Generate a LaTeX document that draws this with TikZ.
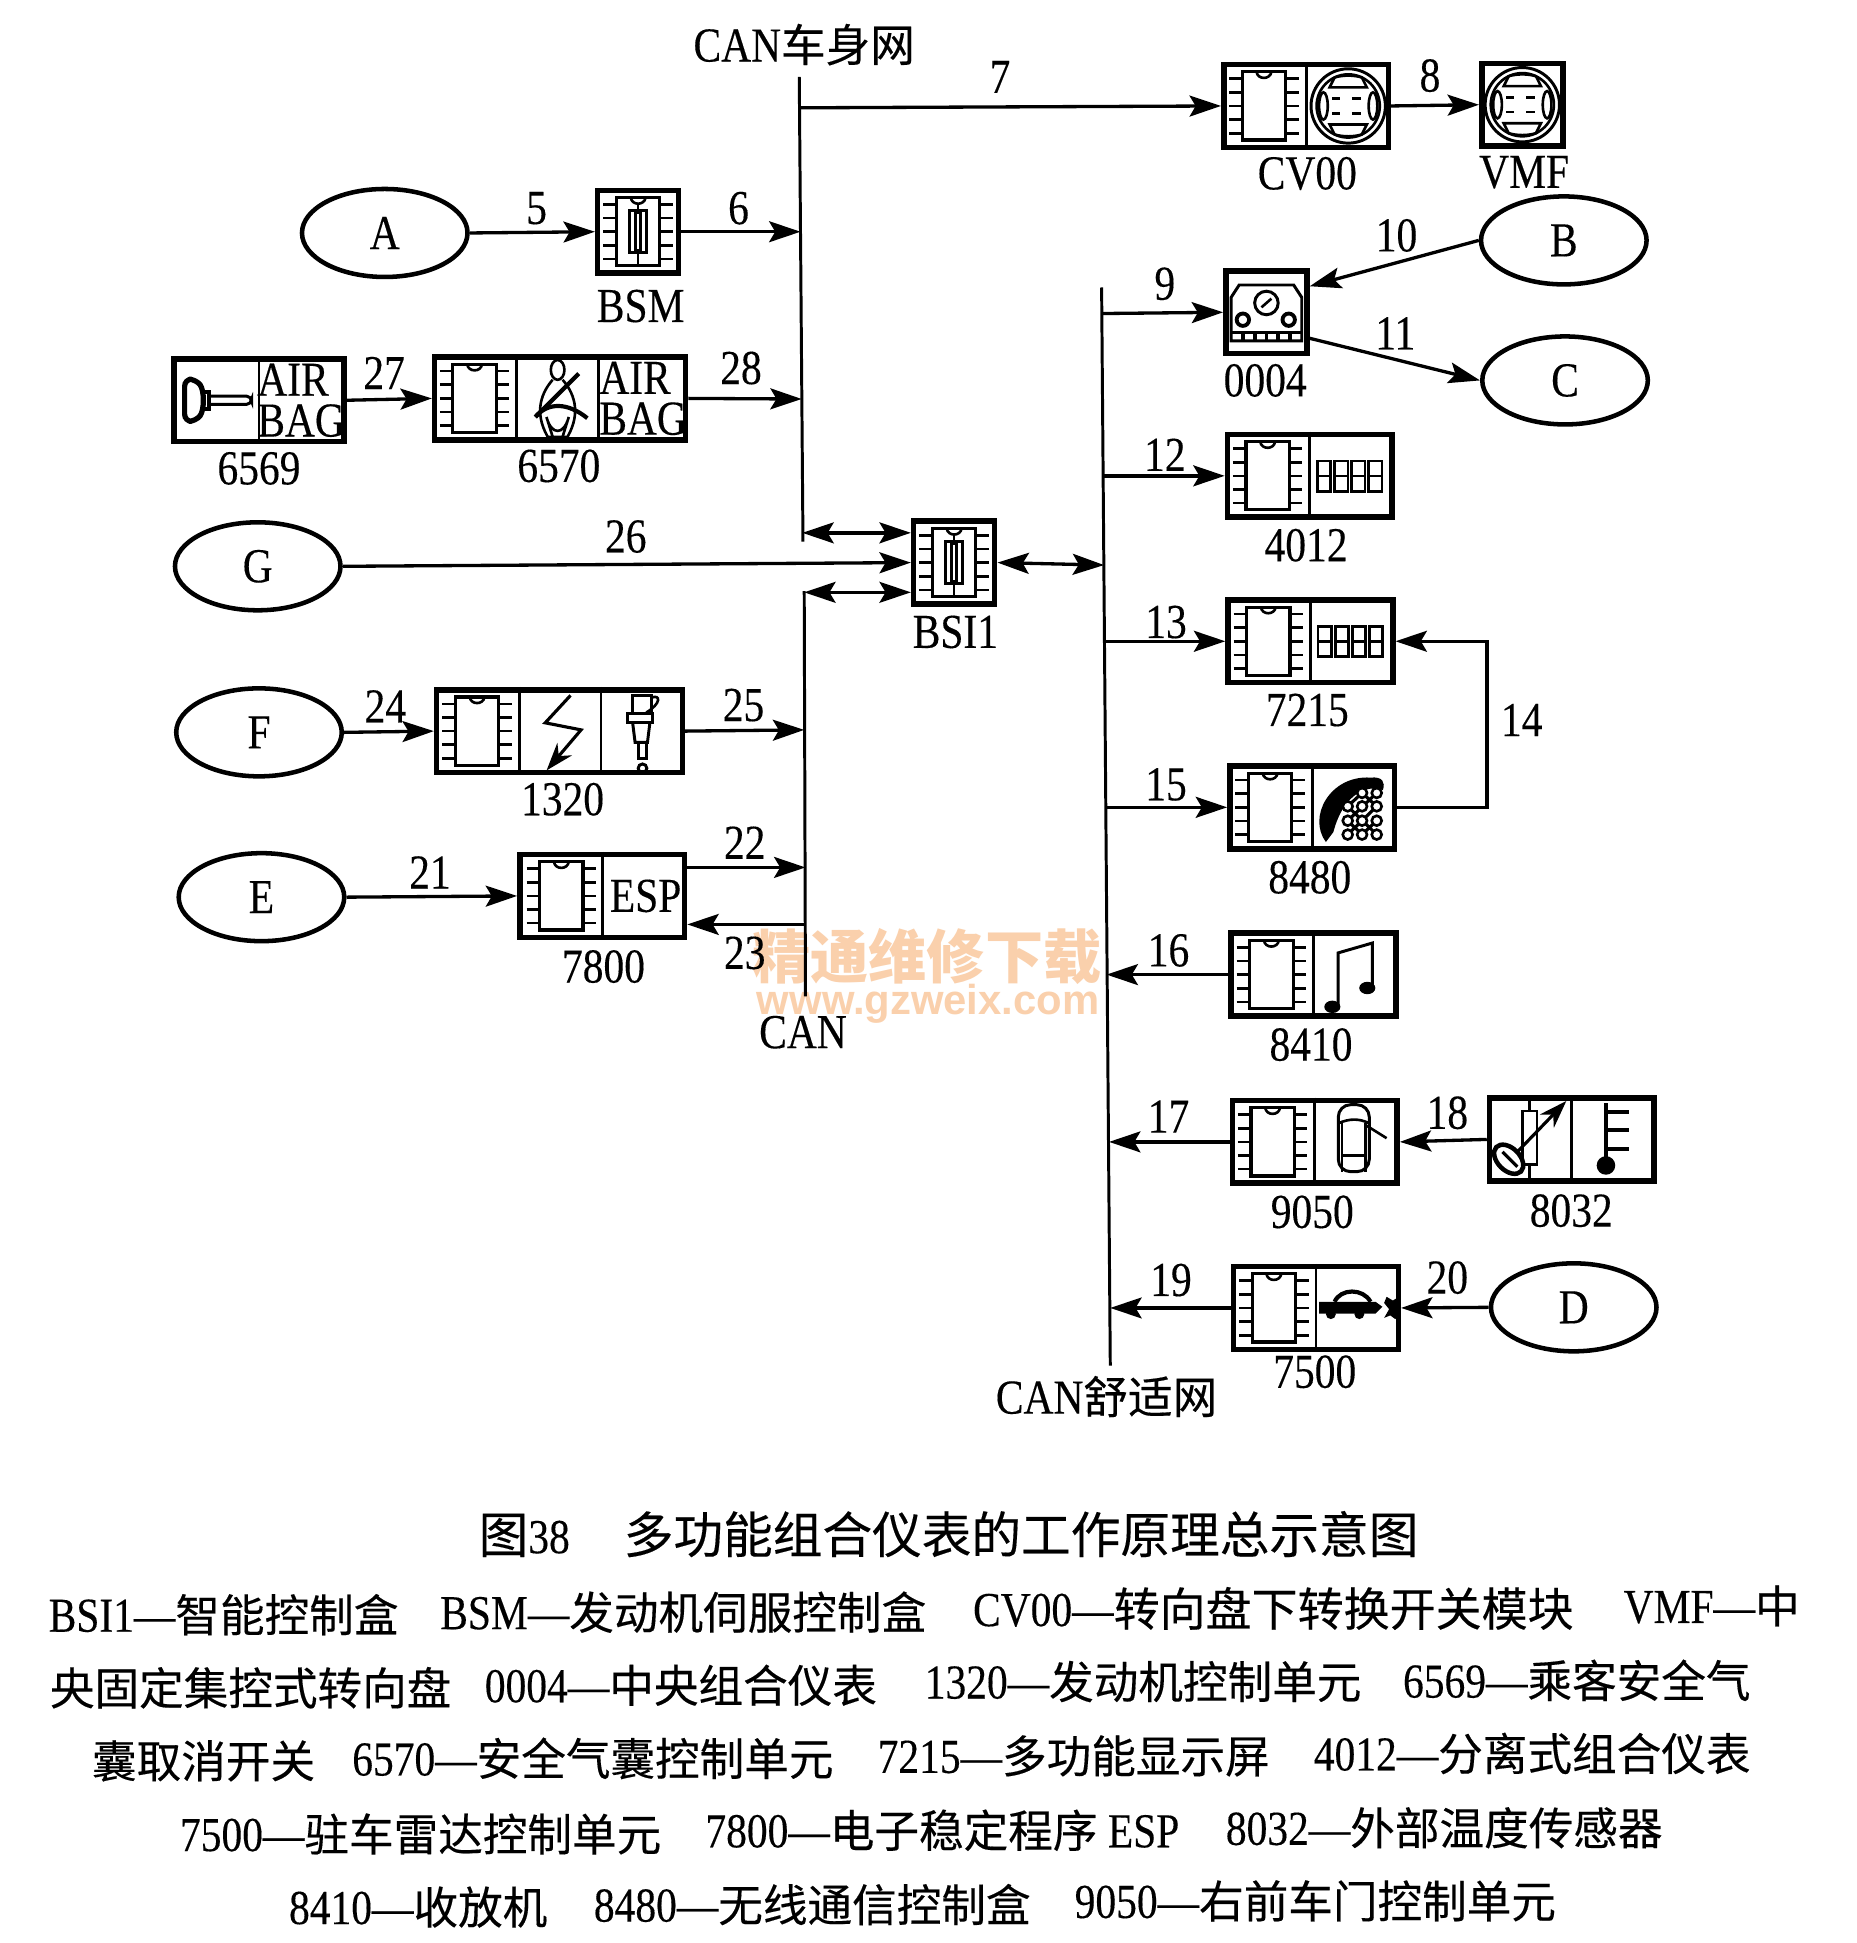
\documentclass[tikz,border=0pt]{standalone}
\usepackage{fontspec}
\setmainfont[FakeStretch=0.85,FakeBold=0.25]{Liberation Serif}
\newfontfamily\cjk[FakeBold=0.3]{Noto Sans CJK SC}
\newfontfamily\wmarkzh{Noto Sans CJK SC}
\newfontfamily\wmark{Liberation Sans}
\usetikzlibrary{shapes,positioning,calc,arrows.meta}
\definecolor{wmarkc}{RGB}{250,208,172}
\newcommand{\zh}[1]{{\cjk\fontsize{25.6}{28}\selectfont #1}}
\newcommand{\zhwide}[1]{{\cjk\fontsize{26.4}{28}\selectfont #1}}
\newcommand{\zhbig}[1]{{\cjk\fontsize{28.5}{30}\selectfont #1}}
\tikzset{
    fine/.style={line width=1.5pt},
    chip/.pic={
        \draw[fine] (-6,-27.5) .. controls (-5,-21) and (5,-21) .. (6,-27.5);
        \draw[line width=1.8pt] (-17.5,-27.5) rectangle (17.5,27.5);
        \foreach \p in {-22,-11,0,11,22} {
            \draw[fine] (-28,\p) -- (-17.5,\p);
            \draw[fine] (17.5,\p) -- (28,\p);
        }
    },
    fusechip/.pic={
        \pic {chip};
        \draw[fine] (0,-22) -- (0,27.5);
        \draw[line width=1.7pt, fill=white] (-7,-17) rectangle (7,17);
        \draw[fine] (-2,-15) rectangle (2,15);
    },
    wheel/.pic={
        \draw[line width=1.7pt] (0,0) circle [radius=30];
        \draw[fine] (0,0) circle [radius=25.5];
        \draw[fine] (-11,-23) .. controls (-4,-25) and (4,-25) .. (11,-23) -- (15,-15) -- (-15,-15) -- cycle;
        \draw[fine] (-11,23) .. controls (-4,25) and (4,25) .. (11,23) -- (15,15) -- (-15,15) -- cycle;
        \draw[fine] (-20,0) ellipse [x radius=3.5, y radius=11];
        \draw[fine] (20,0) ellipse [x radius=3.5, y radius=11];
        \foreach \r in {-6,6} {
            \draw[fine] (-13,\r) -- (-7,\r);
            \draw[fine] (3,\r) -- (10,\r);
        }
    },
    gauge/.pic={
        \draw[line width=1.7pt] (-28.5,23) -- (-28.5,-12) -- (-22,-22) -- (22,-22) -- (28.5,-12) -- (28.5,23) -- cycle;
        \draw[line width=1.7pt] (0,-7.5) circle [radius=9.5];
        \draw[fine] (-4,-4) -- (4,-11);
        \draw[line width=2.2pt] (-19,6) circle [radius=5];
        \draw[line width=2.2pt] (18,6) circle [radius=5];
        \draw[line width=1.7pt] (-28.5,16) -- (28.5,16);
        \foreach \t in {-19,-9.5,0,9.5,19} \draw[line width=2.2pt] (\t,16) -- (\t,23);
    },
    digits/.pic={
        \foreach \k in {0,1,2,3} {
            \draw[fine] (-27.8+\k*13.8,-12) rectangle (-17.1+\k*13.8,12.5);
            \draw[fine] (-27.8+\k*13.8,0) -- (-17.1+\k*13.8,0);
        }
    },
    phone/.pic={
        \fill (-23,28) .. controls (-38,8) and (-20,-26) .. (13,-24) .. controls (23,-25) and (25,-20) .. (23,-14)
            .. controls (13,-18) and (-8,-14) .. (-17,20) -- cycle;
        \draw[line width=1.8pt] (-5.4,-.8) -- (6.2,-11.6) (-5.4,10.8) -- (18,-11.6) (-5.4,22) -- (18,-.8) (6.2,22) -- (18,10.8)
            (6.2,-11.6) -- (18,-.8) (-5.4,-.8) -- (18,22) (-5.4,10.8) -- (6.2,22);
        \foreach \x/\y in {6.2/-11.6,18/-11.6,-5.4/-.8,6.2/-.8,18/-.8,-5.4/10.8,6.2/10.8,18/10.8,-5.4/22,6.2/22,18/22}
            \draw[fine, fill=white] (\x,\y) circle [radius=4];
    },
    music/.pic={
        \draw[line width=1.7pt] (-14.2,24) -- (-14.2,-17.5) -- (13.5,-25.5) -- (13.5,10.8);
        \fill (-18.8,26) ellipse [x radius=6.5, y radius=5];
        \fill (9.4,10.8) ellipse [x radius=6.5, y radius=5];
    },
    belted/.pic={
        \draw[fine] (0,-23) ellipse [x radius=5.5, y radius=8];
        \draw[fine] (-4,-15) .. controls (-12,-6) and (-20,10) .. (-8,31) -- (8,31) .. controls (20,10) and (12,-6) .. (4,-15);
        \draw[fine] (-9,15) -- (-4,31) (9,15) -- (4,31) (-9,15) .. controls (-5,30) and (5,30) .. (9,15);
        \draw[line width=2.4pt] (17,-20) -- (-18,15);
        \draw[line width=2.4pt] (-18,15) .. controls (-8,3) and (8,3) .. (24,16);
    },
    pullkey/.pic={
        \draw[line width=3pt, rounded corners=4pt] (-24,-17) -- (-15,-17) .. controls (-8,-8) and (-8,8) .. (-15,17) -- (-24,17) -- cycle;
        \draw[line width=2.2pt] (-8.4,-7) -- (-4.5,-7) -- (-4.5,7) -- (-8.4,7);
        \draw[line width=1.7pt, rounded corners=3pt] (-4.5,-3.4) -- (30,-3.4) -- (30,3.4) -- (-4.5,3.4);
    },
    bolt/.pic={
        \draw[line width=1.8pt, -{Stealth[length=16pt,width=11pt]}] (8.9,-28.8) -- (-11.5,-6.7) -- (17.4,-1) -- (-10.4,31.7);
    },
    plug/.pic={
        \draw[line width=1.7pt] (-8,-14) -- (-8,-29) -- (7,-29) -- (7,-14);
        \draw[fine] (7,-27) .. controls (15,-30) and (15,-22) .. (3,-15);
        \draw[line width=1.7pt] (-12,-14) rectangle (8,-7);
        \draw[line width=1.7pt] (-8,-7) -- (-6,9) -- (4,9) -- (6,-7);
        \draw[line width=1.7pt] (-3.3,9) rectangle (3,22);
        \draw[line width=1.7pt] (0,30) circle [radius=3.5];
    },
    cabin/.pic={
        \draw[line width=1.7pt, rounded corners=7pt] (-15,-30) rectangle (10,24);
        \draw[fine] (-15,-15) .. controls (-6,-19) and (2,-19) .. (10,-15);
        \draw[fine] (-12,-15) -- (-12,24) (7,-15) -- (7,24) (-11,11) -- (6,11);
        \draw[fine] (8,-13) -- (24,-3);
    },
    thermal/.pic={
        \draw[line width=1.8pt] (0,-31) -- (0,31);
        \draw[fine, fill=white] (-6,-23) rectangle (6,20);
        \draw[line width=2.6pt, rotate around={-45:(-17,16)}] (-17,16) ellipse [x radius=14, y radius=9];
        \draw[line width=1.8pt] (-22,10) -- (-10,22);
        \draw[line width=1.8pt, -{Stealth[length=16pt,width=11pt]}] (-9.4,9.4) -- (29.5,-31);
    },
    thermo/.pic={
        \draw[line width=2.8pt] (-6.5,-29) -- (-6.5,16);
        \foreach \t in {-22,-7.5,7.5} \draw[line width=2.4pt] (-6.5,\t) -- (12.4,\t);
        \fill (-6.5,21) circle [radius=7.5];
    },
    radar/.pic={
        \fill (-31.5,-5) -- (14,-5) -- (19.5,-1) -- (14,4.5) -- (-31.5,4.5) -- cycle;
        \draw[line width=2.4pt] (-19,-5) .. controls (-14,-16) and (4,-16) .. (10,-5);
        \fill (-22,5) circle [radius=4];
        \fill (1,5) circle [radius=4];
        \fill (23,-9) -- (28,-6) -- (33,-9) -- (31,-2) -- (33,5) -- (30,9) -- (26,6) -- (21,8) -- (25,1) -- (21,-4) -- cycle;
    }
}

\begin{document}
\begin{tikzpicture}[x=0.025cm, y=-0.025cm,
        every node/.style={font=\fontsize{28}{30}\selectfont},
        unit/.style={rectangle, draw, line width=3.2pt, inner sep=0, minimum height=47.5pt},
        single/.style={unit, minimum width=46.5pt},
        twin/.style={unit, minimum width=94.5pt},
        triple/.style={unit, minimum width=141pt},
        port/.style={ellipse, draw, line width=2.6pt, inner sep=0, minimum width=95pt, minimum height=50.5pt},
        tag/.style={inner sep=0},
        legend/.style={inner sep=0, anchor=west},
        airbag/.style={inner sep=0, align=left, font=\fontsize{28}{23.4}\selectfont},
        split/.style={line width=1.7pt},
        bus/.style={line width=1.7pt},
        line/.style={draw, line width=1.9pt, -{Stealth[length=18pt,width=12pt,inset=3.5pt]}},
        dualline/.style={draw, line width=1.9pt, {Stealth[length=18pt,width=12pt,inset=3.5pt]}-{Stealth[length=18pt,width=12pt,inset=3.5pt]}}]
        \path[use as bounding box, fill=white] (0,0) rectangle (1498,1568);

        \node [tag, text=wmarkc, font=\wmarkzh\bfseries\fontsize{33.4}{36}\selectfont] (wm1) at (748,772) {精通维修下载};
        \node [tag, text=wmarkc, font=\wmark\bfseries\fontsize{24}{26}\selectfont] (wm2) at (749,810) {www.gzweix.com};

        \node [port] (a) at (310.5,188) {A};
        \node [port] (b) at (1262,194) {B};
        \node [port] (c) at (1263,307) {C};
        \node [port] (g) at (208,457) {G};
        \node [port] (f) at (209,591) {F};
        \node [port] (e) at (211,724) {E};
        \node [port] (d) at (1270,1055) {D};

        \node [single] (bsm) at (515,187) {};
        \node [single] (bsi) at (770,454) {};
        \node [twin] (cvoo) at (1054,85.5) {};
        \node [single] (vmf) at (1228.5,84.5) {};
        \node [single] (dash) at (1022,252) {};
        \node [twin] (cluster) at (1057,384) {};
        \node [twin] (screen) at (1057.5,517.5) {};
        \node [twin] (radio) at (1059,651.5) {};
        \node [twin] (audio) at (1060,786.5) {};
        \node [twin] (door) at (1061,921.5) {};
        \node [twin] (temp) at (1268.5,919.5) {};
        \node [twin] (park) at (1062,1055.5) {};
        \node [twin, minimum width=97.5pt] (cutoff) at (209,323) {};
        \node [triple, minimum width=144pt] (airctrl) at (452,321.5) {};
        \node [triple] (engine) at (451.5,590) {};
        \node [twin] (esp) at (486,723) {};

        \draw[split] (cvoo.north) -- (cvoo.south);
        \draw[split] (cluster.north) -- (cluster.south);
        \draw[split] (screen.north) -- (screen.south);
        \draw[split] (radio.north) -- (radio.south);
        \draw[split] (audio.north) -- (audio.south);
        \draw[split] (door.north) -- (door.south);
        \draw[split] (temp.north) -- (temp.south);
        \draw[split] (park.north) -- (park.south);
        \draw[split] (cutoff.north) -- (cutoff.south);
        \draw[split] (esp.north) -- (esp.south);
        \draw[split] ($(airctrl.north)+(-35,0)$) -- ($(airctrl.south)+(-35,0)$);
        \draw[split] ($(airctrl.north)+(31,0)$) -- ($(airctrl.south)+(31,0)$);
        \draw[split] ($(engine.north)+(-32.5,0)$) -- ($(engine.south)+(-32.5,0)$);
        \draw[split] ($(engine.north)+(33.5,0)$) -- ($(engine.south)+(33.5,0)$);

        \pic at (bsm) {fusechip};
        \pic at (bsi) {fusechip};
        \pic at ($(cvoo)+(-34,0)$) {chip};
        \pic at ($(cvoo)+(34,0)$) {wheel};
        \pic at (vmf) {wheel};
        \pic at (dash) {gauge};
        \pic at ($(cluster)+(-34,0)$) {chip};
        \pic at ($(cluster)+(34,0)$) {digits};
        \pic at ($(screen)+(-34,0)$) {chip};
        \pic at ($(screen)+(34,0)$) {digits};
        \pic at ($(radio)+(-34,0)$) {chip};
        \pic at ($(radio)+(34,0)$) {phone};
        \pic at ($(audio)+(-34,0)$) {chip};
        \pic at ($(audio)+(34,0)$) {music};
        \pic at ($(door)+(-34,0)$) {chip};
        \pic at ($(door)+(34,0)$) {cabin};
        \pic at ($(temp)+(-34,0)$) {thermal};
        \pic at ($(temp)+(34,0)$) {thermo};
        \pic at ($(park)+(-34,0)$) {chip};
        \pic at ($(park)+(34,0)$) {radar};
        \pic at ($(cutoff)+(-36,0)$) {pullkey};
        \pic at ($(airctrl)+(-69,0)$) {chip};
        \pic at ($(airctrl)+(-2,0)$) {belted};
        \pic at ($(engine)+(-66.5,0)$) {chip};
        \pic at (engine) {bolt};
        \pic at ($(engine)+(67,0)$) {plug};
        \pic at ($(esp)+(-33,0)$) {chip};

        \node [airbag] (bag1) at ($(cutoff)+(34,0)$) {AIR\\BAG};
        \node [airbag] (bag2) at ($(airctrl)+(67,0)$) {AIR\\BAG};
        \node [tag] (esptext) at ($(esp)+(35,0)$) {ESP};

        \coordinate (bodytop) at (645,62);
        \coordinate (bodyend) at (648,437);
        \coordinate (cantop) at (649,477);
        \coordinate (canend) at (650,804);
        \coordinate (comftop) at (889,232);
        \coordinate (comfend) at (896,1102);
        \draw[bus] (bodytop) -- (bodyend);
        \draw[bus] (cantop) -- (canend);
        \draw[bus] (comftop) -- (comfend);

        \coordinate (t6) at (646,187);
        \coordinate (t7) at (645,87);
        \coordinate (t28) at (647,322);
        \coordinate (t25) at (649,589);
        \coordinate (t22) at (650,700);
        \coordinate (t23) at (650,746);
        \coordinate (t9) at (890,253);
        \coordinate (t12) at (891,384);
        \coordinate (t13) at (892,517.5);
        \coordinate (t15) at (892,651.5);
        \coordinate (t16) at (893,786.5);
        \coordinate (t17) at (895,921.5);
        \coordinate (t19) at (896,1055.5);
        \coordinate (t29) at (647.5,430);
        \coordinate (t30) at (649,478);
        \coordinate (t31) at (891,456);
        \coordinate (c14) at (1200,585);

        \path [line] (a.east) -- (bsm.west);
        \path [line] (bsm.east) -- (t6);
        \path [line] (t7) -- (cvoo.west);
        \path [line] (cvoo.east) -- (vmf.west);
        \path [line] (t9) -- (dash.west);
        \path [line] (b.west) -- ($(dash.east)+(0,-21)$);
        \path [line] ($(dash.east)+(0,21)$) -- (c.west);
        \path [line] (t12) -- (cluster.west);
        \path [line] (t13) -- (screen.west);
        \path [line] (radio.east) -| (c14) |- (screen.east);
        \path [line] (t15) -- (radio.west);
        \path [line] (audio.west) -- (t16);
        \path [line] (door.west) -- (t17);
        \path [line] (temp.west) -- (door.east);
        \path [line] (park.west) -- (t19);
        \path [line] (d.west) -- (park.east);
        \path [line] (e.east) -- (esp.west);
        \path [line] ($(esp.east)+(0,-23)$) -- (t22);
        \path [line] (t23) -- ($(esp.east)+(0,23)$);
        \path [line] (f.east) -- (engine.west);
        \path [line] (engine.east) -- (t25);
        \path [line] (g.east) -- (bsi.west);
        \path [line] (cutoff.east) -- (airctrl.west);
        \path [line] (airctrl.east) -- (t28);
        \path [dualline] (t29) -- ($(bsi.west)+(0,-24)$);
        \path [dualline] (t30) -- ($(bsi.west)+(0,24)$);
        \path [dualline] (bsi.east) -- (t31);

        \node [tag] (n5) at (433,168) {5};
        \node [tag] (n6) at (596,168) {6};
        \node [tag] (n7) at (807,62) {7};
        \node [tag] (n8) at (1154,61) {8};
        \node [tag] (n9) at (940,229) {9};
        \node [tag] (n10) at (1127,190) {10};
        \node [tag] (n11) at (1126,269) {11};
        \node [tag] (n12) at (940,367) {12};
        \node [tag] (n13) at (941,502) {13};
        \node [tag] (n14) at (1228,581) {14};
        \node [tag] (n15) at (941,633) {15};
        \node [tag] (n16) at (943,767) {16};
        \node [tag] (n17) at (943,901) {17};
        \node [tag] (n18) at (1168,898) {18};
        \node [tag] (n19) at (945,1033) {19};
        \node [tag] (n20) at (1168,1031) {20};
        \node [tag] (n21) at (347,704) {21};
        \node [tag] (n22) at (601,680) {22};
        \node [tag] (n23) at (601,769) {23};
        \node [tag] (n24) at (311,570) {24};
        \node [tag] (n25) at (600,569) {25};
        \node [tag] (n26) at (505,433) {26};
        \node [tag] (n27) at (310,301) {27};
        \node [tag] (n28) at (598,297) {28};

        \node [tag] (lbsm) at (517,247) {BSM};
        \node [tag] (lbsi) at (771,510) {BSI1};
        \node [tag] (lcvoo) at (1055,140) {CV00};
        \node [tag] (lvmf) at (1230,139) {VMF};
        \node [tag] (ldash) at (1021,307) {0004};
        \node [tag] (lcluster) at (1054,440) {4012};
        \node [tag] (lscreen) at (1055,573) {7215};
        \node [tag] (lradio) at (1057,708) {8480};
        \node [tag] (laudio) at (1058,843) {8410};
        \node [tag] (ldoor) at (1059,978) {9050};
        \node [tag] (ltemp) at (1268,977) {8032};
        \node [tag] (lpark) at (1061,1107) {7500};
        \node [tag] (lcutoff) at (209,378) {6569};
        \node [tag] (lairctrl) at (451,376) {6570};
        \node [tag] (lengine) at (454,645) {1320};
        \node [tag] (lesp) at (487,780) {7800};
        \node [tag] (lbody) at (649,36) {CAN\zh{车身网}};
        \node [tag] (lcan) at (648,833) {CAN};
        \node [tag] (lcomf) at (893,1127) {CAN\zh{舒适网}};

        \node [legend] (title) at (386,1238) {\zhbig{图}38\hspace{31pt}\zhbig{多功能组合仪表的工作原理总示意图}};
        \node [legend] (r1a) at (39,1303) {BSI1—\zh{智能控制盒}};
        \node [legend] (r1b) at (355,1301) {BSM—\zh{发动机伺服控制盒}};
        \node [legend] (r1c) at (785,1298) {CV00—\zhwide{转向盘下转换开关模块}};
        \node [legend] (r1d) at (1310,1296) {VMF—\zh{中}};
        \node [legend] (r2a) at (40,1362) {\zh{央固定集控式转向盘}};
        \node [legend] (r2b) at (391,1360) {0004—\zh{中央组合仪表}};
        \node [legend] (r2c) at (746,1357) {1320—\zh{发动机控制单元}};
        \node [legend] (r2d) at (1132,1356) {6569—\zh{乘客安全气}};
        \node [legend] (r3a) at (74,1421) {\zh{囊取消开关}};
        \node [legend] (r3b) at (284,1419) {6570—\zh{安全气囊控制单元}};
        \node [legend] (r3c) at (708,1417) {7215—\zh{多功能显示屏}};
        \node [legend] (r3d) at (1060,1415) {4012—\zh{分离式组合仪表}};
        \node [legend] (r4a) at (145,1480) {7500—\zh{驻车雷达控制单元}};
        \node [legend] (r4b) at (569,1477) {7800—\zh{电子稳定程序} ESP};
        \node [legend] (r4c) at (989,1475) {8032—\zh{外部温度传感器}};
        \node [legend] (r5a) at (233,1539) {8410—\zh{收放机}};
        \node [legend] (r5b) at (479,1537) {8480—\zh{无线通信控制盒}};
        \node [legend] (r5c) at (867,1534) {9050—\zh{右前车门控制单元}};
    \end{tikzpicture}
\end{document}
